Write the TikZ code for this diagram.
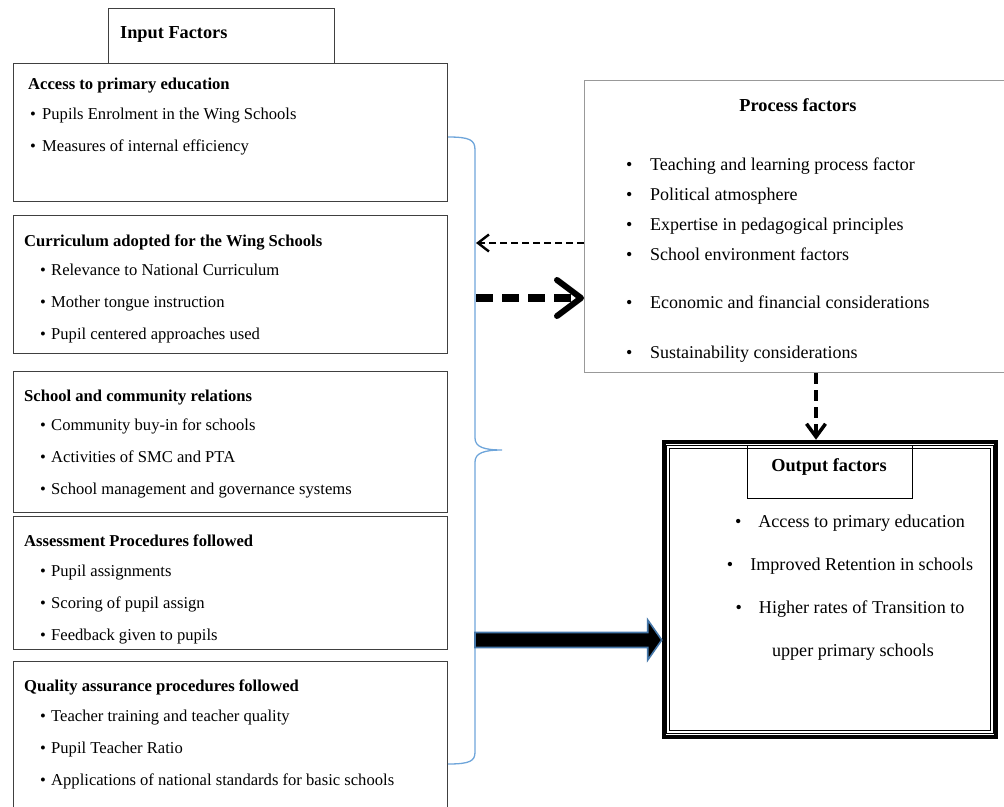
\documentclass[tikz,border=0pt]{standalone}
\usepackage{fontspec}
\setmainfont{Liberation Serif}
\usetikzlibrary{arrows.meta,calc}
\definecolor{bracecol}{RGB}{110,165,218}
\definecolor{edgecol}{RGB}{70,120,170}
\def\bl{\makebox[12pt][l]{\textbullet}}
\def\ib{\hspace{16pt}\makebox[11pt][l]{\textbullet}}
\def\pb{\makebox[24pt][l]{\textbullet}}
\tikzset{
  inbox/.style={draw=black!75, line width=1.4, anchor=north west,
    minimum width=434, minimum height=#1, inner sep=0},
  intext/.style={anchor=north west, align=left, inner sep=0,
    font=\fontsize{16.6}{32}\selectfont},
  head/.style={inner sep=0, font=\fontsize{18.3}{20}\selectfont\bfseries},
}

\begin{document}
\begin{tikzpicture}[x=1pt,y=-1pt]
\useasboundingbox (0,0) rectangle (1004,806);
% input side
\node[draw=black!75, line width=1.4, anchor=north west, minimum width=226,
  minimum height=55, inner sep=0] (intitle) at (108,8) {};
\node[head, anchor=west] (intitletext) at (120,34) {Input Factors};
\node[inbox=138] (in1) at (13,63) {};
\node[inbox=138] (in2) at (13,215) {};
\node[inbox=141] (in3) at (13,371) {};
\node[inbox=133] (in4) at (13,516) {};
\node[inbox=160] (in5) at (13,661) {};
\node[intext] (in1text) at (28,78) {\textbf{Access to primary education}\\[-2pt]
  \hspace{2pt}\bl Pupils Enrolment in the Wing Schools\\
  \hspace{2pt}\bl Measures of internal efficiency};
\node[intext] (in2text) at (24,235) {\textbf{Curriculum adopted for the Wing Schools}\\[-3pt]
  \ib Relevance to National Curriculum\\
  \ib Mother tongue instruction\\
  \ib Pupil centered approaches used};
\node[intext] (in3text) at (24,390) {\textbf{School and community relations}\\[-3pt]
  \ib Community buy-in for schools\\
  \ib Activities of SMC and PTA\\
  \ib School management and governance systems};
\node[intext] (in4text) at (24,535) {\textbf{Assessment Procedures followed}\\[-2pt]
  \ib Pupil assignments\\
  \ib Scoring of pupil assign\\
  \ib Feedback given to pupils};
\node[intext] (in5text) at (24,680) {\textbf{Quality assurance procedures followed}\\[-2pt]
  \ib Teacher training and teacher quality\\
  \ib Pupil Teacher Ratio\\
  \ib Applications of national standards for basic schools};
% brace round the inputs
\draw[bracecol, line width=1.3] (448,137) .. controls (470,137) and (475,140) .. (475,150)
  -- (475,438) .. controls (475,447) and (484,450) .. (502,450)
  .. controls (484,450) and (475,453) .. (475,462)
  -- (475,752) .. controls (475,761) and (470,764) .. (448,764);
% process side
\node[draw=black!40, line width=1.2, anchor=north west, minimum width=440,
  minimum height=292, inner sep=0] (proc) at (584,80) {};
\node[head] (proctitle) at (798,105) {Process factors};
\node[anchor=north west, align=left, inner sep=0,
  font=\fontsize{18}{30}\selectfont] (proctext) at (626,158) {%
  \pb Teaching and learning process factor\\
  \pb Political atmosphere\\
  \pb Expertise in pedagogical principles\\
  \pb School environment factors\\[18pt]
  \pb Economic and financial considerations\\[20pt]
  \pb Sustainability considerations};
% output side
\node[draw, line width=4.5, minimum width=332, minimum height=295, inner sep=0]
  (outer) at (830,589.5) {};
\node[draw, line width=0.9, double, double distance=1.8, minimum width=324,
  minimum height=285, inner sep=0] (inner) at (830,589.5) {};
\node[draw, line width=1.2, anchor=north west, minimum width=165,
  minimum height=53, inner sep=0] (outtitle) at (747,445) {};
\node[head] (outtitletext) at (829,467) {Output factors};
\node[anchor=north, align=center, inner sep=0,
  font=\fontsize{18.1}{43}\selectfont] (outtext) at (850,515) {%
  \textbullet\hspace{17pt}Access to primary education\\
  \textbullet\hspace{17pt}Improved Retention in schools\\
  \textbullet\hspace{17pt}Higher rates of Transition to\\
  \hspace{6pt}upper primary schools};
% connectors
\coordinate (back) at (476,243);
\coordinate (fwd) at (476,298);
\coordinate (down) at (816,0);
\coordinate (bt) at (475,640);
\draw[line width=2.2, dash pattern=on 7 off 4,
  -{Straight Barb[length=11,width=17,line width=2.4]}] (proc.west |- back) -- (back);
\draw[line width=7.5, dash pattern=on 17 off 9,
  -{Straight Barb[length=24,width=36,line width=6,round]}] (fwd) -- (proc.west |- fwd);
\draw[line width=3.5, dash pattern=on 11 off 6,
  -{Straight Barb[length=13,width=19,line width=3.5]}] (proc.south -| down) -- (outer.north -| down);
\filldraw[fill=black, draw=edgecol, line width=1.6]
  ($(bt)+(0,-7.5)$) -- ($(outer.west |- bt)+(-14,-7.5)$) -- ($(outer.west |- bt)+(-14,-20)$)
  -- (outer.west |- bt) -- ($(outer.west |- bt)+(-14,20)$) -- ($(outer.west |- bt)+(-14,7.5)$)
  -- ($(bt)+(0,7.5)$) -- cycle;
\end{tikzpicture}
\end{document}
